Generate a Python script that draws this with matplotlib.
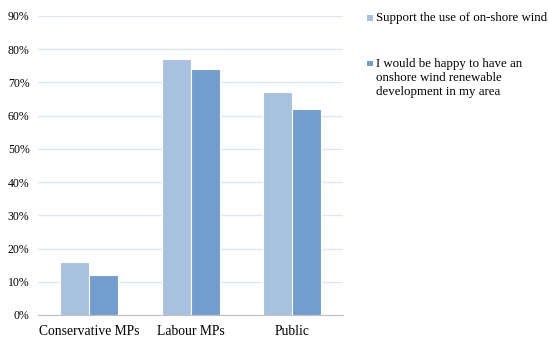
import matplotlib
matplotlib.use('Agg')
import matplotlib.pyplot as plt
from matplotlib.patches import Rectangle
from matplotlib.ticker import FuncFormatter
import numpy as np

plt.rcParams['font.family'] = ['Liberation Serif', 'DejaVu Serif']

# データ
categories = ['Conservative MPs', 'Labour MPs', 'Public']
support = [16, 77, 67]
happy_local = [12, 74, 62]
series_labels = ['Support the use of on-shore wind',
                 'I would be happy to have an\nonshore wind renewable\ndevelopment in my area']
colors = ['#a8c1e1', '#729dcf']

fig = plt.figure(figsize=(5.49, 3.51), dpi=100)
ax = fig.add_axes([0.069, 0.1026, 0.556, 0.852])

x = np.arange(len(categories))
w = 0.285
ax.bar(x - w / 2, support, w, color=colors[0], edgecolor='white', linewidth=0.8, zorder=3)
ax.bar(x + w / 2, happy_local, w, color=colors[1], edgecolor='white', linewidth=0.8, zorder=3)

ax.set_xlim(-0.5, 2.5)
ax.set_ylim(0, 90)
ax.set_yticks(range(0, 91, 10))
ax.yaxis.set_major_formatter(FuncFormatter(lambda v, p: f'{int(v)}%'))
ax.set_xticks(x)
ax.set_xticklabels(categories, fontsize=9.8)
ax.tick_params(axis='y', labelsize=8.5, length=0, pad=6)
ax.tick_params(axis='x', length=0, pad=7)

ax.grid(axis='y', color='#dfe7f1', linewidth=1, zorder=0)
for s in ['top', 'right', 'left']:
    ax.spines[s].set_visible(False)
ax.spines['bottom'].set_color('#bfbfbf')

# 凡例（手動配置）
legend_top = [0.965, 0.835]
for lab, c, yt in zip(series_labels, colors, legend_top):
    fig.patches.append(Rectangle((367 / 549, yt - 0.024), 5.5 / 549, 5.5 / 351,
                                 transform=fig.transFigure, facecolor=c, edgecolor='none'))
    fig.text(376 / 549, yt, lab, fontsize=9.3, va='top', ha='left', linespacing=1.2)

fig.savefig('out.png', dpi=100, facecolor='white')
